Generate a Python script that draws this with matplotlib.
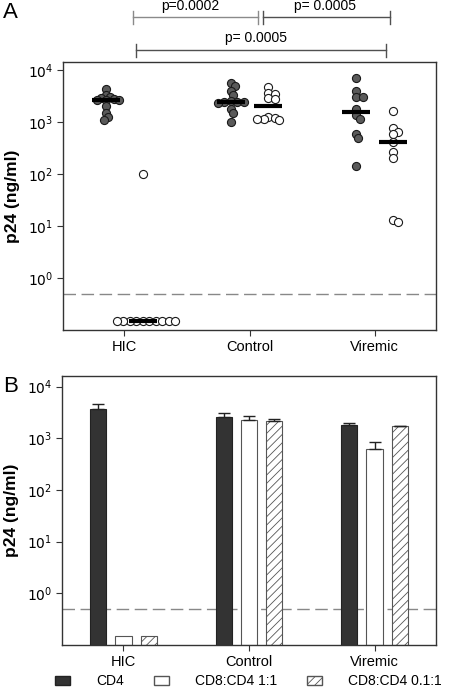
import numpy as np
import matplotlib
matplotlib.use("Agg")
import matplotlib.pyplot as plt
from matplotlib.patches import Patch
import matplotlib.transforms as mtransforms

plt.rcParams['font.family'] = ['Liberation Sans', 'DejaVu Sans']
plt.rcParams['hatch.linewidth'] = 0.6

# ---------------- data ----------------
groups = ["HIC", "Control", "Viremic"]

# Panel A: individual p24 values (ng/ml)
cd4_points = [
    [4300, 3300, 3000, 2900, 2800, 2700, 2700, 2600, 2000, 1500, 1250, 1100],   # HIC
    [5600, 5000, 4000, 3300, 2500, 2400, 2400, 2400, 2300, 1800, 1500, 1000],   # Control
    [7000, 4000, 3100, 3000, 1800, 1350, 1150, 600, 500, 145],                  # Viremic
]
cd8_points = [
    [100, 0.15, 0.15, 0.15, 0.15, 0.15, 0.15, 0.15, 0.15, 0.15, 0.15],           # HIC
    [4800, 3600, 3500, 2900, 2800, 1250, 1150, 1150, 1200, 1100],              # Control
    [1630, 760, 650, 590, 420, 270, 205, 13, 12],                               # Viremic
]

# Panel B: bar means and upper error (ng/ml)
series_names = ["CD4", "CD8:CD4 1:1", "CD8:CD4 0.1:1"]
bar_cd4 = [3650, 2620, 1780]
bar_11 = [0.15, 2250, 610]
bar_011 = [0.15, 2150, 1730]
err_cd4 = [900, 400, 200]
err_11 = [0, 500, 240]
err_011 = [0, 250, 30]

detection_limit = 0.5

pvals = ["p=0.0002", "p= 0.0005", "p= 0.0005"]

# ---------------- figure ----------------
W, H = 450, 688
fig = plt.figure(figsize=(W / 100, H / 100), dpi=100)

def fx(px):
    return px / W

def fy(py):
    return 1 - py / H

axA = fig.add_axes([fx(63), fy(330), fx(436) - fx(63), fy(62) - fy(330)])
axB = fig.add_axes([fx(62), fy(645), fx(436) - fx(62), fy(376) - fy(645)])

xpos = np.arange(len(groups))
spine_col = "#333333"

for ax, top in ((axA, 10 ** 4.155), (axB, 10 ** 4.205)):
    ax.set_yscale('log')
    ax.set_ylim(0.1, top)
    ax.set_xlim(-0.49, 2.49)
    ax.set_yticks([1, 10, 100, 1000, 10000])
    ax.set_yticklabels([r'$10^{0}$', r'$10^{1}$', r'$10^{2}$', r'$10^{3}$', r'$10^{4}$'])
    ax.yaxis.set_minor_locator(matplotlib.ticker.NullLocator())
    ax.set_xticks(xpos)
    ax.set_xticklabels(groups, fontsize=10.5)
    ax.tick_params(axis='y', labelsize=10, length=4, width=0.8, color=spine_col, pad=3)
    ax.tick_params(axis='x', length=4, width=0.8, color=spine_col, pad=3)
    for s in ax.spines.values():
        s.set_color(spine_col)
        s.set_linewidth(1.0)
    ax.set_ylabel("p24 (ng/ml)", fontsize=12.5, fontweight='bold', labelpad=6)
    ax.axhline(detection_limit, color='#888888', lw=1.0, dashes=(9, 4), zorder=1)

# ---------------- panel A: beeswarm ----------------
fig.canvas.draw()
diam_px = 7.2

def swarm_offsets(ax, xc, vals, diam):
    pts = [ax.transData.transform((xc, v)) for v in vals]
    ys = np.array([p[1] for p in pts])
    x0 = pts[0][0]
    order = np.argsort(-ys)
    placed = []
    offs = np.zeros(len(vals))
    thr = 0.62 * diam
    cand = [0.0]
    for j in range(1, 60):
        cand += [j * 0.3 * diam, -j * 0.3 * diam]
    for i in order:
        y = ys[i]
        for c in cand:
            ok = True
            for (px, py) in placed:
                if (px - c) ** 2 + (py - y) ** 2 < thr ** 2:
                    ok = False
                    break
            if ok:
                offs[i] = c
                placed.append((c, y))
                break
    res = []
    for i, v in enumerate(vals):
        xd = ax.transData.inverted().transform((x0 + offs[i], ys[i]))[0]
        res.append(xd)
    return np.array(res)

grp_shift = 0.148
med_half = 0.11
for gi in range(len(groups)):
    # CD4 filled
    vals = cd4_points[gi]
    xs = swarm_offsets(axA, xpos[gi] - grp_shift, vals, diam_px)
    axA.scatter(xs, vals, s=34, facecolor='#5a5a5a', edgecolor='#1a1a1a', linewidths=0.8, zorder=3)
    m = np.median(vals)
    axA.plot([xpos[gi] - grp_shift - med_half, xpos[gi] - grp_shift + med_half], [m, m],
             color='black', lw=3, zorder=4, solid_capstyle='butt')
    # CD8:CD4 open
    vals = cd8_points[gi]
    xs = swarm_offsets(axA, xpos[gi] + grp_shift, vals, diam_px)
    axA.scatter(xs, vals, s=34, facecolor='white', edgecolor='#1a1a1a', linewidths=0.8, zorder=3)
    m = np.median(vals)
    axA.plot([xpos[gi] + grp_shift - med_half, xpos[gi] + grp_shift + med_half], [m, m],
             color='black', lw=3, zorder=4, solid_capstyle='butt')

# significance brackets
bt = mtransforms.blended_transform_factory(axA.transData, fig.transFigure)
brackets = [
    (0.07, 1.07, 17, 0.53, 13, '#8a8a8a'),
    (1.11, 2.12, 17, 1.60, 13, '#505050'),
    (0.09, 2.09, 50, 1.05, 45, '#505050'),
]
for (x1, x2, ypx, xt, ytx, col), ptxt in zip(brackets, pvals):
    y = fy(ypx)
    dy = 6.5 / H
    axA.plot([x1, x2], [y, y], transform=bt, color=col, lw=1, clip_on=False)
    axA.plot([x1, x1], [y - dy, y + dy], transform=bt, color=col, lw=1, clip_on=False)
    axA.plot([x2, x2], [y - dy, y + dy], transform=bt, color=col, lw=1, clip_on=False)
    axA.text(xt, fy(ytx), ptxt, transform=bt, ha='center', va='bottom', fontsize=10)

# ---------------- panel B: bars ----------------
bw = 0.128
step = 0.2
bottom = 0.1
series = [bar_cd4, bar_11, bar_011]
errs = [err_cd4, err_11, err_011]
styles = [
    dict(facecolor='#333333', edgecolor='#222222', hatch=None),
    dict(facecolor='white', edgecolor='#555555', hatch=None),
    dict(facecolor='white', edgecolor='#555555', hatch='////'),
]
for si, (vals, e, st) in enumerate(zip(series, errs, styles)):
    xs = xpos + (si - 1) * step
    heights = np.array(vals) - bottom
    axB.bar(xs, heights, bottom=bottom, width=bw, facecolor=st['facecolor'],
            edgecolor=st['edgecolor'], hatch=st['hatch'], linewidth=0.8, zorder=2)
    for x, v, ev in zip(xs, vals, e):
        if ev > 0:
            axB.errorbar([x], [v], yerr=[[0], [ev]], fmt='none', ecolor='#222222',
                         elinewidth=1, capsize=4, capthick=1, zorder=3)

# panel labels
fig.text(fx(3), fy(13), "A", fontsize=16, va='center', ha='left')
fig.text(fx(3), fy(386), "B", fontsize=16, va='center', ha='left')

# legend
handles = [
    Patch(facecolor='#333333', edgecolor='#222222'),
    Patch(facecolor='white', edgecolor='#555555'),
    Patch(facecolor='white', edgecolor='#555555', hatch='////'),
]
fig.legend(handles, series_names, loc='center left', bbox_to_anchor=(fx(55), fy(681)),
           ncol=3, frameon=False, fontsize=10, handlelength=1.1, handleheight=0.6,
           handletextpad=1.9, columnspacing=2.1, borderpad=0, borderaxespad=0)

fig.savefig("out.png", dpi=100)
